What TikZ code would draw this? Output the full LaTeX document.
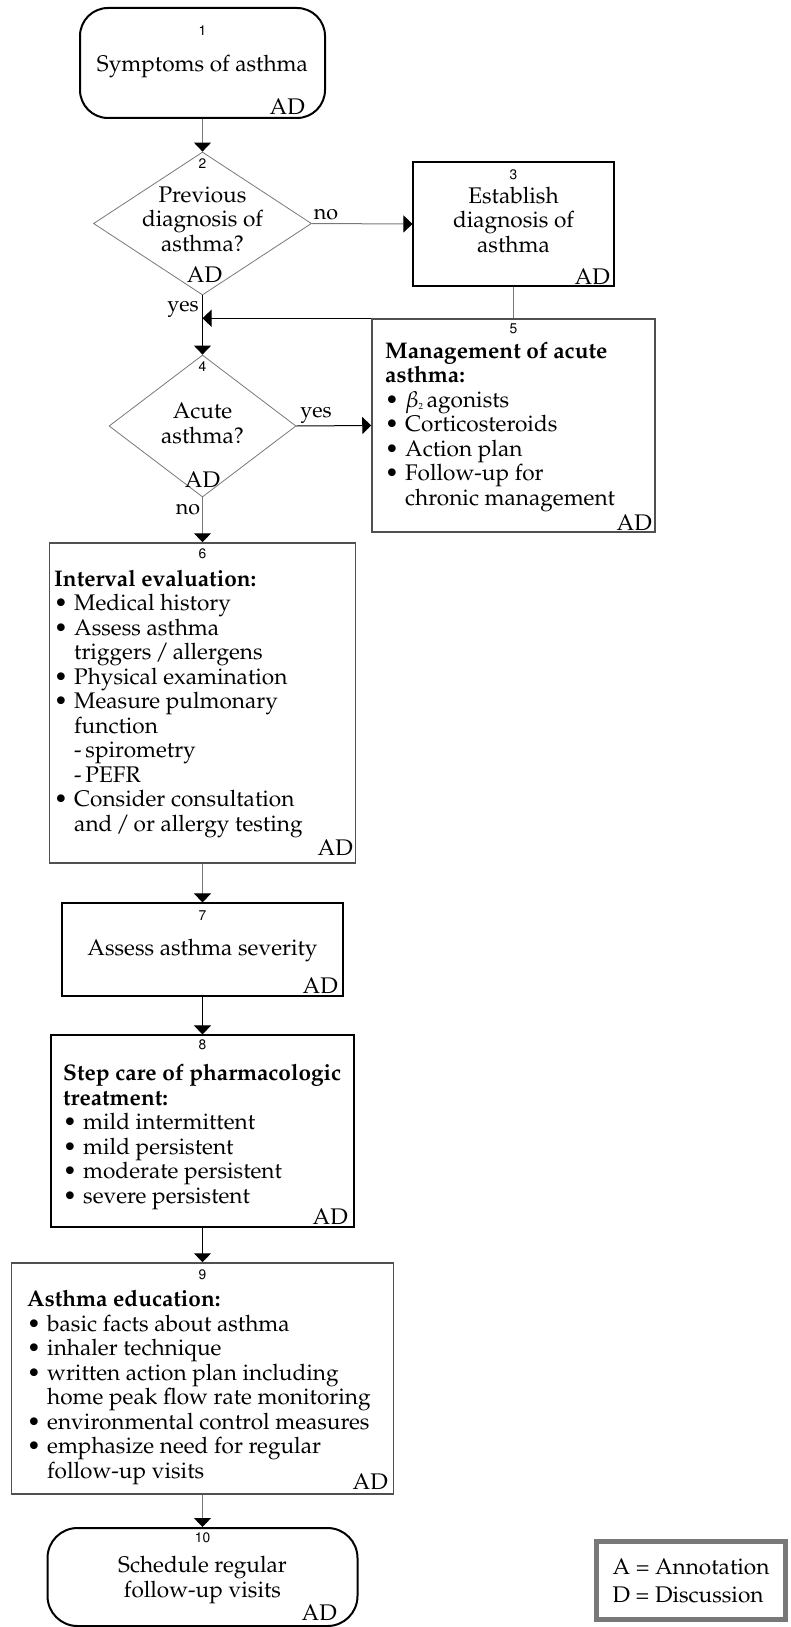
\documentclass[tikz,border=0pt]{standalone}
\usepackage[T1]{fontenc}
\usepackage{mathpazo}
\usepackage[scaled=0.92]{helvet}
\usetikzlibrary{arrows.meta,shapes.geometric,positioning}

\definecolor{lgray}{RGB}{120,120,120}
\definecolor{dgray}{RGB}{80,80,80}
\newcommand{\bul}{\makebox[20pt][l]{\textbullet}}
\newcommand{\ind}{\hspace*{20pt}}
\newcommand{\betatwo}{$\beta$\raisebox{-2pt}{\fontsize{9}{9}\selectfont 2}}

\tikzset{
  txt/.style={font=\fontsize{22.6}{24.5}\selectfont, inner sep=0pt},
  num/.style={font=\sffamily\fontsize{15}{15}\selectfont, inner sep=0pt},
  adl/.style={font=\fontsize{22.6}{24}\selectfont, inner sep=0pt, anchor=base east},
  lbl/.style={font=\fontsize{21.5}{24}\selectfont, inner sep=0pt, anchor=base},
  term/.style={draw, line width=2pt, rounded corners=28pt, inner sep=0pt},
  plain/.style={draw, line width=1.1pt, inner sep=0pt},
  soft/.style={draw=dgray, line width=1.5pt, inner sep=0pt},
  decide/.style={diamond, draw=lgray, line width=0.8pt, inner sep=0pt},
  flow/.style={line width=1pt, -{Triangle[width=17pt,length=9pt,color=black]}},
}

\begin{document}
\begin{tikzpicture}[x=1pt,y=-1pt]
  \useasboundingbox (0,0) rectangle (790,1627);

  % shapes
  \node[term, minimum width=245pt, minimum height=110pt] (b1) at (202.5,63) {};
  \node[decide, minimum width=218pt, minimum height=143pt] (d2) at (202.5,223.5) {};
  \node[plain, minimum width=201pt, minimum height=124pt] (b3) at (513.5,224) {};
  \node[decide, minimum width=187pt, minimum height=142pt] (d4) at (202.5,426) {};
  \node[soft, minimum width=283pt, minimum height=213pt] (b5) at (513.5,425.5) {};
  \node[soft, minimum width=306pt, minimum height=320pt] (b6) at (202.5,703) {};
  \node[plain, minimum width=281pt, minimum height=93pt] (b7) at (202.5,949.5) {};
  \node[plain, minimum width=303pt, minimum height=192pt] (b8) at (202.5,1131) {};
  \node[soft, minimum width=382pt, minimum height=231pt] (b9) at (202.5,1378.5) {};
  \node[term, rounded corners=30pt, minimum width=310pt, minimum height=98pt] (b10) at (202.5,1577) {};

  % numbers
  \node[num] (n1) at (202.5,31) {1};
  \node[num] (n2) at (202.5,164) {2};
  \node[num] (n3) at (513.5,175) {3};
  \node[num] (n4) at (202.5,367) {4};
  \node[num] (n5) at (513.5,329) {5};
  \node[num] (n6) at (202.5,554) {6};
  \node[num] (n7) at (202.5,916) {7};
  \node[num] (n8) at (202.5,1045) {8};
  \node[num] (n9) at (202.5,1275) {9};
  \node[num] (n10) at (202.5,1538) {10};

  % texts (multi-line nodes sit on their last baseline)
  \node[txt, anchor=base] (t1) at (202.5,72) {Symptoms of asthma};
  \node[txt, anchor=base, align=center] (t2) at (202.5,251) {Previous\\diagnosis of\\asthma?};
  \node[txt, anchor=base, align=center] (t3) at (513.5,252) {Establish\\diagnosis of\\asthma};
  \node[txt, anchor=base, align=center] (t4) at (202.5,443) {Acute\\asthma?};
  \node[txt, anchor=base west, align=left] (t5) at (385,505)
    {\textbf{Management of acute}\\\textbf{asthma:}\\
     \bul\betatwo\,agonists\\\bul Corticosteroids\\
     \bul Action plan\\\bul Follow-up for\\\ind chronic management};
  \node[txt, anchor=base west, align=left] (t6) at (54,831)
    {\textbf{Interval evaluation:}\\\bul Medical history\\\bul Assess asthma\\
     \ind triggers\,/\,allergens\\\bul Physical examination\\\bul Measure pulmonary\\
     \ind function\\\ind -\,spirometry\\\ind -\,PEFR\\\bul Consider consultation\\
     \ind and\,/\,or allergy testing};
  \node[txt, anchor=base] (t7) at (202.5,955) {Assess asthma severity};
  \node[txt, anchor=base west, align=left] (t8) at (63,1203)
    {\textbf{Step care of pharmacologic}\\\textbf{treatment:}\\\bul mild intermittent\\
     \bul mild persistent\\\bul moderate persistent\\\bul severe persistent};
  \node[txt, anchor=base west, align=left] (t9) at (27,1478)
    {\textbf{Asthma education:}\\\bul basic facts about asthma\\\bul inhaler technique\\
     \bul written action plan including\\\ind home peak flow rate monitoring\\
     \bul environmental control measures\\\bul emphasize need for regular\\
     \ind follow-up visits};
  \node[txt, anchor=base, align=center] (t10) at (202.5,1597) {Schedule regular\\follow-up visits};

  % AD marks
  \node[adl] (a1) at (305,114) {AD};
  \node[adl, anchor=base] (a2) at (204.5,282) {AD};
  \node[adl] (a3) at (610,284) {AD};
  \node[adl, anchor=base] (a4) at (202.5,487) {AD};
  \node[adl] (a5) at (652,530) {AD};
  \node[adl] (a6) at (353,855) {AD};
  \node[adl] (a7) at (338,993) {AD};
  \node[adl] (a8) at (348,1224) {AD};
  \node[adl] (a9) at (388,1489) {AD};
  \node[adl] (a10) at (337,1620) {AD};

  % branch labels
  \node[lbl] (no1) at (326,219) {no};
  \node[lbl] (yes1) at (183,311) {yes};
  \node[lbl] (yes2) at (316,417) {yes};
  \node[lbl] (no2) at (188,514) {no};

  % connectors
  \draw[flow, lgray] (b1) -- (d2);
  \draw[flow, lgray] (d2.east) -- (b3.west);
  \draw[lgray, line width=1pt] (b3.south) -- (b3.south |- b5.north);
  \draw[flow] (b5.north west) -- (d2.south |- b5.north);
  \draw[flow] (d2.south) -- (d4.north);
  \draw[flow] (d4.east) -- (b5.west);
  \draw[flow, lgray] (d4.south) -- (b6.north);
  \draw[flow, lgray] (b6.south) -- (b7.north);
  \draw[flow] (b7.south) -- (b8.north);
  \draw[flow] (b8.south) -- (b9.north);
  \draw[flow, lgray] (b9.south) -- (b10.north);

  % legend
  \node[draw=lgray, line width=5pt, fill=white, minimum width=189pt, minimum height=78pt,
        inner sep=0pt, align=left, font=\fontsize{22.6}{28}\selectfont] (leg) at (691,1580.5)
    {A = Annotation\\D = Discussion};
\end{tikzpicture}
\end{document}
